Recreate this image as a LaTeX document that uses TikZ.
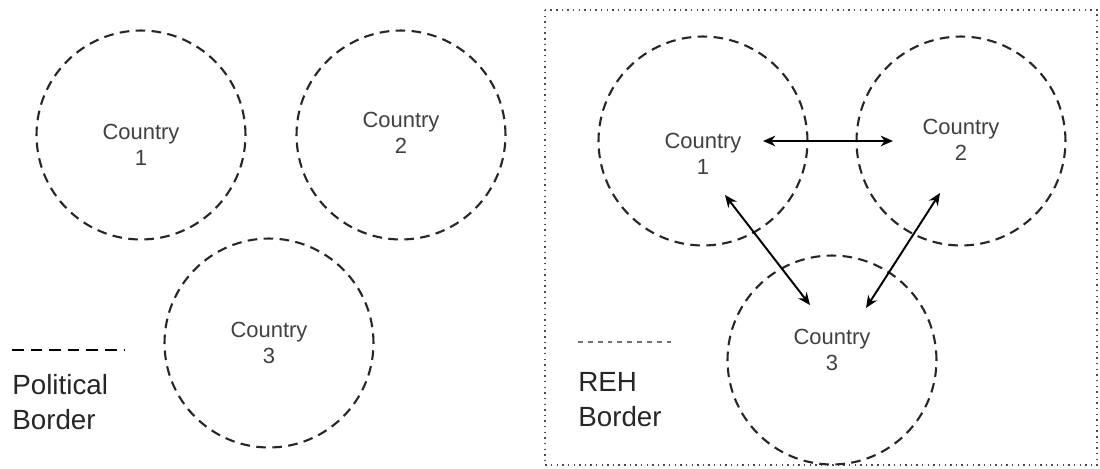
\documentclass[tikz,border=0pt]{standalone}
\usepackage{fontspec}
\setmainfont{Liberation Sans}
\usetikzlibrary{arrows.meta}
\begin{document}
\begin{tikzpicture}[x=0.02cm,y=-0.02cm,
  country/.style={circle, draw=black!85, line width=1.2pt, dash pattern=on 5.5pt off 3.6pt, minimum size=4.18cm, inner sep=0pt},
  cname/.style={align=center, text=black!75, font=\fontsize{12.5}{15}\selectfont, inner sep=1pt},
  legend/.style={align=left, anchor=north west, inner sep=0pt, text=black!85, font=\fontsize{15.8}{20}\selectfont},
  reh/.style={draw=black!70, line width=0.8pt, dash pattern=on 0.8pt off 2.4pt},
  link/.style={{Stealth[length=7pt,width=6pt]}-{Stealth[length=7pt,width=6pt]}, line width=1.1pt}]
\useasboundingbox (0,0) rectangle (1100,468);

% Political borders (left)
\node[country] (p1) at (141,135) {};
\node[country] (p2) at (401,135) {};
\node[country] (p3) at (269,343) {};
\node[cname] (n1) at (141,145) {Country\\1};
\node[cname] (n2) at (401,133) {Country\\2};
\node[cname] (n3) at (269,343) {Country\\3};

% legend
\draw[line width=1.2pt, dash pattern=on 6.6pt off 4pt] (12,350) -- (125,350);
\node[legend] (pol) at (12,374) {Political\\Border};

% REH border (right)
\draw[reh] (545,10) rectangle (1097,465);
\node[country] (q1) at (703,141) {};
\node[country] (q2) at (961,141) {};
\node[country] (q3) at (832,360) {};
\node[cname] (r1) at (703,154) {Country\\1};
\node[cname] (r2) at (961,140) {Country\\2};
\node[cname] (r3) at (832,350) {Country\\3};

% trade links
\coordinate (a13) at (725,195);
\coordinate (b13) at (810,305);
\coordinate (a23) at (940,193);
\coordinate (b23) at (866,308);
\draw[link, shorten <=1.2cm, shorten >=1.36cm] (q1.center) -- (q2.center);
\draw[link] (a13) -- (b13);
\draw[link] (a23) -- (b23);

% legend
\draw[draw=black!55, dash pattern=on 2.8pt off 2.8pt, line width=0.7pt] (578,342) -- (673,342);
\node[legend] (rehb) at (578,372) {REH\\Border};
\end{tikzpicture}
\end{document}
